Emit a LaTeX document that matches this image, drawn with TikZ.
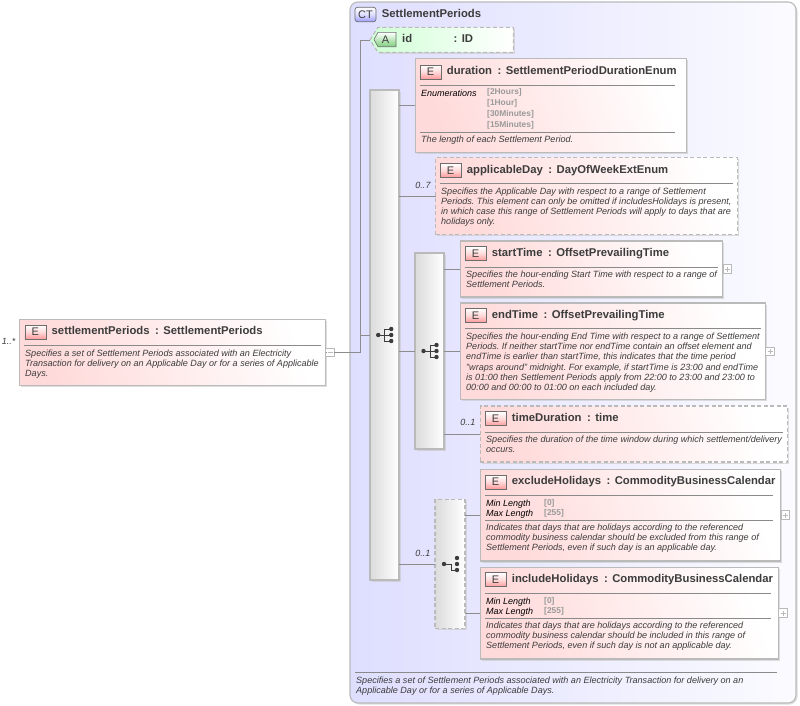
\documentclass[tikz,border=0pt]{standalone}
\usepackage{fontspec}
\setmainfont{Liberation Sans}
\frenchspacing
\definecolor{edge}{HTML}{BABABA}
\definecolor{wire}{HTML}{8C8C8C}
\definecolor{ink}{HTML}{3C3C3C}
\definecolor{rule}{HTML}{8A8A8A}
\definecolor{enumc}{HTML}{9A9A9A}
\definecolor{pinkL}{HTML}{FFDADA}
\definecolor{panelL}{HTML}{DEDEFF}
\definecolor{panelR}{HTML}{FBFBFF}
\definecolor{greenL}{HTML}{CFFFD4}
\definecolor{shadowc}{HTML}{C4C4C4}
\newcommand{\sepc}{\hspace{5.5pt}:\hspace{4.5pt}}
\tikzset{
  x=1pt,y=-1pt,
  ebox/.style={draw=edge,line width=1.1pt,left color=pinkL,right color=white,shading angle=110,
     rectangle,inner sep=0pt,outer sep=0pt,anchor=north west,
     preaction={fill=shadowc,fill opacity=.55,transform canvas={xshift=1.5pt,yshift=-1.5pt}}},
  eopt/.style={ebox,dash pattern=on 4pt off 2.5pt},
  seqbox/.style={draw=edge,line width=1.1pt,left color=black!14,right color=white,
     rectangle,inner sep=0pt,outer sep=0pt,anchor=north west,
     preaction={fill=shadowc,fill opacity=.55,transform canvas={xshift=1.5pt,yshift=-1.5pt}}},
  seqopt/.style={seqbox,dash pattern=on 4pt off 2.5pt},
  badge/.style={draw=ink!75,line width=.6pt,minimum width=21pt,minimum height=14pt,inner sep=0pt,outer sep=0pt,
     bottom color=red!40!white,top color=white,middle color=pinkL,
     font=\fontsize{11}{11}\selectfont,text=ink,anchor=north west},
  ttl/.style={font=\fontsize{11.3}{11.3}\selectfont\bfseries,text=ink,anchor=base west,inner sep=0pt},
  desc/.style={font=\fontsize{9.05}{10.1}\selectfont\itshape,text=ink,anchor=north west,inner sep=0pt,align=left},
  facet/.style={font=\fontsize{9}{10}\selectfont\itshape,text=black,anchor=north west,inner sep=0pt,align=left},
  fval/.style={font=\fontsize{8.4}{10.7}\selectfont\bfseries,text=enumc,anchor=north west,inner sep=0pt,align=left},
  fvalb/.style={fval,font=\fontsize{8.4}{10}\selectfont\bfseries},
  card/.style={font=\fontsize{9}{10}\selectfont\itshape,text=ink,anchor=east,inner sep=0pt},
  wirep/.style={draw=wire,line width=.6pt},
  rulep/.style={draw=rule,line width=.7pt},
  expander/.style={draw=edge,fill=white,line width=.7pt,minimum size=8.5pt,inner sep=0pt,outer sep=0pt,rectangle},
}
\newcommand{\plusmark}[1]{\draw[draw=edge,line width=.7pt] ([xshift=-2.5pt]#1.center) -- ([xshift=2.5pt]#1.center) ([yshift=-2.5pt]#1.center) -- ([yshift=2.5pt]#1.center);}
\newcommand{\minusmark}[1]{\draw[draw=edge,line width=.7pt] ([xshift=-2.5pt]#1.center) -- ([xshift=2.5pt]#1.center);}
\newcommand{\elembox}[6]{\node[#6,minimum width=#4pt,minimum height=#5pt] (#1) at (#2,#3) {};}
\newcommand{\elemhead}[5]{%
  \node[badge] (#1b) at (#2,#3) {E};
  \node[ttl] (#1t) at (#2+26.7,#3+9.7) {#4};
  \draw[rulep] (#2-.5,#3+20.5) -- (#5,#3+20.5);
}
\newcommand{\seqicon}[2]{%
  \fill[ink] (#1-6.5,#2) circle (2.2pt) (#1+6.5,#2-6) circle (2.2pt) (#1+6.5,#2) circle (2.2pt) (#1+6.5,#2+6) circle (2.2pt);
  \draw[ink,line width=.8pt] (#1-6.5,#2) -- (#1+6.5,#2) (#1+6.5,#2-6) -- (#1,#2-6) -- (#1,#2+6) -- (#1+6.5,#2+6);
}
\newcommand{\allicon}[2]{%
  \fill[ink] (#1-7,#2) circle (2.2pt) (#1+6,#2-6) circle (2.2pt) (#1+6,#2) circle (2.2pt) (#1+6,#2+6) circle (2.2pt);
  \draw[ink,line width=.8pt] (#1-7,#2) -- (#1,#2) -- (#1,#2+6) -- (#1+6,#2+6);
}
\begin{document}
\begin{tikzpicture}
\useasboundingbox (0,0) rectangle (800,705);
\fill[white] (0,0) rectangle (800,705);
\node[rectangle,rounded corners=8pt,draw=edge,line width=1.1pt,left color=panelL,right color=panelR,anchor=north west,
  minimum width=446pt,minimum height=701pt,inner sep=0pt,outer sep=0pt,
  preaction={fill=shadowc,fill opacity=.55,transform canvas={xshift=1.5pt,yshift=-1.5pt}}] (panel) at (350,2) {};
\node[draw=ink!75,line width=.7pt,rounded corners=2.5pt,top color=white,bottom color=panelL!70!blue,middle color=panelL,
  minimum width=21pt,minimum height=14.4pt,inner sep=0pt,outer sep=0pt,anchor=north west,font=\fontsize{11}{11}\selectfont,text=ink] (ctb) at (355,7.3) {CT};
\node[ttl] (ctt) at (381.7,17.5) {SettlementPeriods};
\draw[rulep] (355,672.3) -- (777,672.3);
\node[desc] (ctd) at (356,677) {Specifies a set of Settlement Periods associated with an Electricity Transaction for delivery on an\\Applicable Day or for a series of Applicable Days.};
\elembox{root}{19.3}{319.3}{306.4}{65.8}{ebox}
\elemhead{root}{24.8}{325}{settlementPeriods\sepc SettlementPeriods}{321}
\node[desc] (rootd) at (25,350) {Specifies a set of Settlement Periods associated with an Electricity\\Transaction for delivery on an Applicable Day or for a series of Applicable\\Days.};
\node[card] (rootc) at (15.5,341) {1..*};
\node[expander] (rootx) at (330,352.3) {};
\minusmark{rootx}
\node[seqbox,minimum width=29pt,minimum height=490pt] (seqA) at (370,90) {};
\node[seqbox,minimum width=29pt,minimum height=196pt] (seqB) at (415,253) {};
\node[seqopt,minimum width=30pt,minimum height=129pt] (seqC) at (435,499.5) {};
\seqicon{384.7}{335}
\seqicon{430}{351}
\allicon{451}{564}
\coordinate (idtip) at (370,40);
\shade[left color=greenL,right color=white,draw=edge,line width=1.1pt,dash pattern=on 4pt off 2.5pt,
  preaction={fill=shadowc,fill opacity=.55,transform canvas={xshift=1.5pt,yshift=-1.5pt}}]
  (idtip) -- (378,27.3) -- (513.3,27.3) -- (513.3,52.3) -- (378,52.3) -- cycle;
\shade[top color=white,middle color=greenL,bottom color=green!45!gray!70!white,draw=ink!75,line width=.6pt]
  (378,32.3) -- (396,32.3) -- (396,46.7) -- (378,46.7) -- (374,39.5) -- cycle;
\node[inner sep=0pt,font=\fontsize{11}{11}\selectfont,text=ink] (idb) at (385.5,39.8) {A};
\node[ttl] (idt) at (402,42.5) {id};
\node[ttl] (idty) at (453.3,42.5) {:\hspace{4.5pt}ID};
\elembox{dur}{415.3}{58.5}{271}{94}{ebox}
\elemhead{dur}{420}{65}{duration\sepc SettlementPeriodDurationEnum}{675}
\node[facet] (durf) at (421,89.5) {Enumerations};
\node[fval] (durv) at (487,88.7) {{[2Hours]}\\{[1Hour]}\\{[30Minutes]}\\{[15Minutes]}};
\draw[rulep] (420,132.3) -- (675,132.3);
\node[desc] (durd) at (421,136) {The length of each Settlement Period.};
\elembox{app}{435.5}{157.5}{302}{77}{eopt}
\elemhead{app}{440}{163.3}{applicableDay\sepc DayOfWeekExtEnum}{733}
\node[desc] (appd) at (441,187.7) {Specifies the Applicable Day with respect to a range of Settlement\\Periods. This element can only be omitted if includesHolidays is present,\\in which case this range of Settlement Periods will apply to days that are\\holidays only.};
\node[card] (appc) at (430.7,185) {0..7};
\elembox{st}{460.3}{241}{262.5}{56}{ebox}
\elemhead{st}{465}{246.7}{startTime\sepc OffsetPrevailingTime}{718}
\node[desc] (std) at (466,271) {Specifies the hour-ending Start Time with respect to a range of\\Settlement Periods.};
\node[expander] (stx) at (727.4,269) {};
\plusmark{stx}
\elembox{et}{460.3}{303}{305}{96.5}{ebox}
\elemhead{et}{465}{308.3}{endTime\sepc OffsetPrevailingTime}{761}
\node[desc] (etd) at (466,333) {Specifies the hour-ending End Time with respect to a range of Settlement\\Periods. If neither startTime nor endTime contain an offset element and\\endTime is earlier than startTime, this indicates that the time period\\"wraps around" midnight. For example, if startTime is 23:00 and endTime\\is 01:00 then Settlement Periods apply from 22:00 to 23:00 and 23:00 to\\00:00 and 00:00 to 01:00 on each included day.};
\node[expander] (etx) at (770,351.5) {};
\plusmark{etx}
\elembox{td}{480.3}{406}{307.5}{56}{eopt}
\elemhead{td}{485}{411.7}{timeDuration\sepc time}{783}
\node[desc] (tdd) at (486,436) {Specifies the duration of the time window during which settlement/delivery\\occurs.};
\node[card] (tdc) at (475.5,422.7) {0..1};
\elembox{ex}{480.3}{469.5}{300}{91.5}{ebox}
\elemhead{ex}{485}{475}{excludeHolidays\sepc CommodityBusinessCalendar}{773}
\node[facet] (exf) at (486,500) {Min Length\\Max Length};
\node[fvalb] (exv) at (544,499.5) {{[0]}\\{[255]}};
\draw[rulep] (485,520.7) -- (773,520.7);
\node[desc] (exd) at (486,524) {Indicates that days that are holidays according to the referenced\\commodity business calendar should be excluded from this range of\\Settlement Periods, even if such day is an applicable day.};
\node[expander] (exx) at (785.5,515) {};
\plusmark{exx}
\elembox{in}{480.3}{567.5}{298}{91.5}{ebox}
\elemhead{in}{485}{572.7}{includeHolidays\sepc CommodityBusinessCalendar}{771}
\node[facet] (inf) at (486,598) {Min Length\\Max Length};
\node[fvalb] (inv) at (544,597.5) {{[0]}\\{[255]}};
\draw[rulep] (485,618.7) -- (771,618.7);
\node[desc] (ind) at (486,622) {Indicates that days that are holidays according to the referenced\\commodity business calendar should be included in this range of\\Settlement Periods, even if such day is not an applicable day.};
\node[expander] (inx) at (783,613) {};
\plusmark{inx}
\node[card] (seqCc) at (430.5,553.3) {0..1};
\coordinate (trunk) at (360.7,352.3);
\path[wirep] (root.east |- rootx.west) -- (rootx.west);
\path[wirep] (rootx.east) -- (trunk);
\path[wirep] (trunk) |- (idtip);
\path[wirep] (trunk |- seqA.west) -- (seqA.west);
\path[wirep] (seqA.east |- dur.west) -- (dur.west);
\path[wirep] (seqA.east |- app.west) -- (app.west);
\path[wirep] (seqA.east |- seqB.west) -- (seqB.west);
\path[wirep] (seqA.east |- seqC.west) -- (seqC.west);
\path[wirep] (seqB.east |- st.west) -- (st.west);
\path[wirep] (seqB.east |- et.west) -- (et.west);
\path[wirep] (seqB.east |- td.west) -- (td.west);
\path[wirep] (seqC.east |- ex.west) -- (ex.west);
\path[wirep] (seqC.east |- in.west) -- (in.west);
\end{tikzpicture}
\end{document}
